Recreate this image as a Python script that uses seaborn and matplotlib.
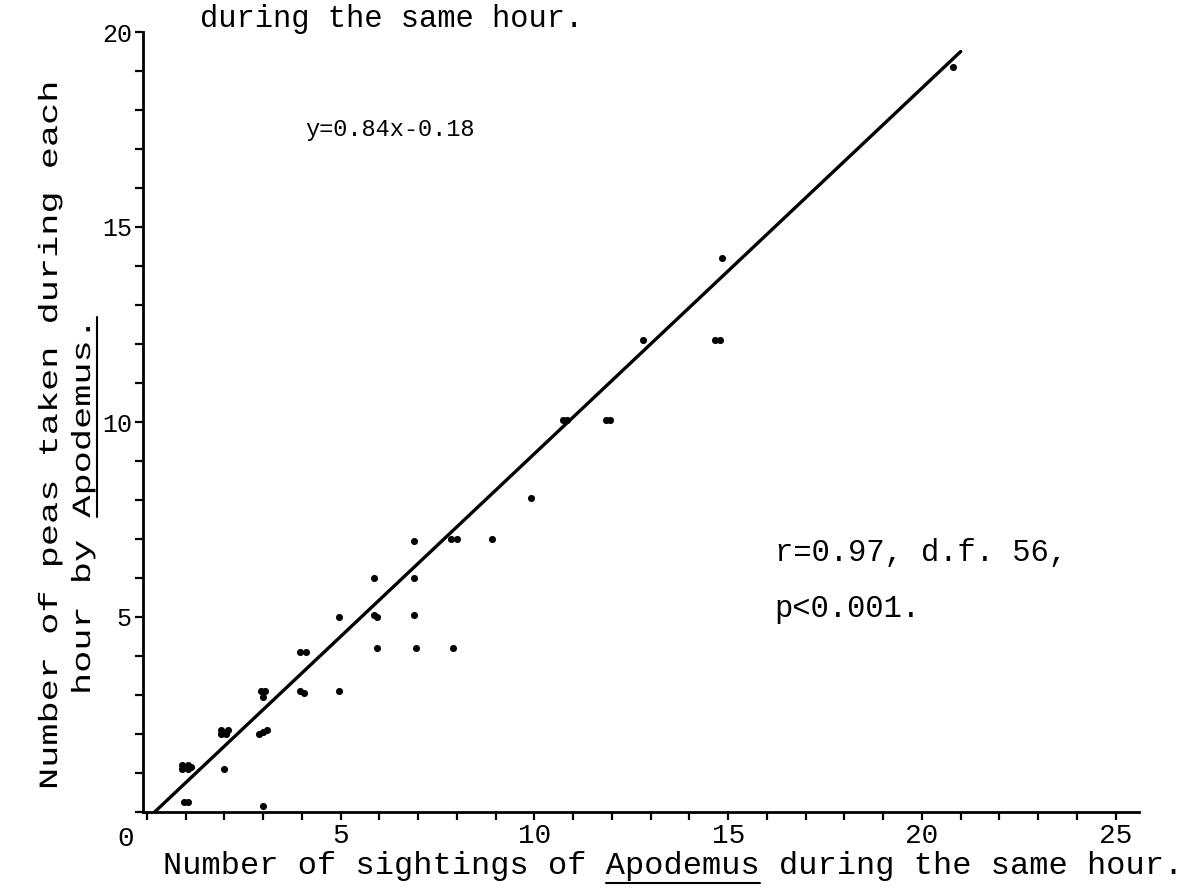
import matplotlib
matplotlib.use("Agg")
import matplotlib.pyplot as plt
import matplotlib.patheffects as pe
from matplotlib.transforms import Affine2D
import seaborn as sns
import pandas as pd
from matplotlib.lines import Line2D

# ---- data ----
sightings = [0.9, 0.9, 1.05, 1.05, 1.15, 0.97, 1.05,
             1.9, 1.9, 2.05, 2.1, 2.0,
             2.95, 3.05, 3.0, 2.9, 3.0, 3.1, 3.0,
             3.95, 4.1, 3.95, 4.05,
             4.95, 4.95,
             5.85, 5.85, 5.95, 5.95,
             6.9, 6.9, 6.9, 6.95,
             7.85, 8.0, 7.9,
             8.9, 9.9,
             10.75, 10.85, 11.85, 11.95,
             12.8, 14.65, 14.8, 14.85,
             20.8]
peas = [1.1, 1.2, 1.1, 1.2, 1.15, 0.25, 0.25,
        2.0, 2.1, 2.0, 2.1, 1.1,
        3.1, 3.1, 2.95, 2.0, 2.05, 2.1, 0.15,
        4.1, 4.1, 3.1, 3.05,
        5.0, 3.1,
        6.0, 5.05, 5.0, 4.2,
        6.95, 6.0, 5.05, 4.2,
        7.0, 7.0, 4.2,
        7.0, 8.05,
        10.05, 10.05, 10.05, 10.05,
        12.1, 12.1, 12.1, 14.2,
        19.1]
fit_x = [0.2, 21.0]
fit_y = [0.0, 19.5]

x_tick_values = [5, 10, 15, 20, 25]
x_tick_labels = ["5", "10", "15", "20", "25"]
y_tick_values = [5, 10, 15, 20]
y_tick_labels = ["5", "10", "15", "20"]
origin_label = "0"

equation_text = "y=0.84x-0.18"
stats_line1 = "r=0.97, d.f. 56,"
stats_line2 = "p<0.001."
x_label = "Number of sightings of Apodemus during the same hour."
y_label_1 = "Number of peas taken during each"
y_label_2 = "hour by Apodemus."
top_caption = "during the same hour."


class Stretch(pe.AbstractPathEffect):
    """Widen typed text along its own direction (typewriter pitch)."""
    def __init__(self, sx):
        super().__init__()
        self._sx = sx

    def draw_path(self, renderer, gc, tpath, affine, rgbFace=None):
        renderer.draw_path(gc, tpath, Affine2D().scale(self._sx, 1.0) + affine, rgbFace)


# ---- style ----
sns.set_style("ticks")
plt.rcParams["font.family"] = ["Liberation Mono", "DejaVu Sans Mono", "DejaVu Sans"]
plt.rcParams["text.color"] = "black"

W, H = 1192, 892
fig = plt.figure(figsize=(W / 100, H / 100), dpi=100)
fig.patch.set_facecolor("white")
ax = fig.add_axes([143 / W, 80 / H, (1139 - 143) / W, (812 - 32) / H])
ax.set_facecolor("white")

df = pd.DataFrame({"sightings": sightings, "peas": peas})
sns.scatterplot(data=df, x="sightings", y="peas", ax=ax, color="black",
                s=26, linewidth=0, clip_on=False)
fit_df = pd.DataFrame({"x": fit_x, "y": fit_y})
sns.lineplot(data=fit_df, x="x", y="y", ax=ax, color="black", linewidth=2.4)

ax.set_xlim(-0.1, 25.6)
ax.set_ylim(0, 20)
ax.set_xlabel("")
ax.set_ylabel("")

for side in ("top", "right"):
    ax.spines[side].set_visible(False)
for side in ("left", "bottom"):
    ax.spines[side].set_linewidth(2.0)
    ax.spines[side].set_color("black")

ax.set_xticks(x_tick_values)
ax.set_xticklabels(x_tick_labels)
ax.set_xticks(list(range(0, 26)), minor=True)
ax.set_yticks(y_tick_values)
ax.set_yticklabels(y_tick_labels)
ax.set_yticks(list(range(0, 21)), minor=True)
ax.tick_params(axis="both", which="both", direction="out", length=6, width=1.6,
               color="black", labelcolor="black", pad=2)
ax.tick_params(axis="x", labelsize=20)
ax.tick_params(axis="y", labelsize=18)

ax.text(-0.55, -0.35, origin_label, fontsize=20, ha="center", va="top", color="black")

ax.text(4.08, 17.5, equation_text, fontsize=17, ha="left", va="center", color="black")
ax.text(16.2, 6.65, stats_line1, fontsize=22, ha="left", va="center", color="black")
ax.text(16.2, 5.2, stats_line2, fontsize=22, ha="left", va="center", color="black")

xl = fig.text(163 / W, 1 - 866 / H, x_label, fontsize=23, ha="left", va="center",
              color="black")

SX = 1.4
yl1 = fig.text(50 / W, 1 - 790 / H, y_label_1, fontsize=19, rotation=90,
               rotation_mode="anchor", ha="left", va="center", color="black",
               path_effects=[Stretch(SX)])
yl2 = fig.text(83 / W, 1 - 695 / H, y_label_2, fontsize=19, rotation=90,
               rotation_mode="anchor", ha="left", va="center", color="black",
               path_effects=[Stretch(SX)])
fig.text(200 / W, 1 - 27 / H, top_caption, fontsize=22, ha="left", va="baseline",
         color="black")

# underline "Apodemus" in both axis titles
fig.canvas.draw()
r = fig.canvas.get_renderer()
bb = xl.get_window_extent(r)
cw = bb.width / len(x_label)
i0 = x_label.index("Apodemus")
fig.add_artist(Line2D([(bb.x0 + i0 * cw) / W, (bb.x0 + (i0 + 8) * cw) / W],
                      [(bb.y0 - 2) / H, (bb.y0 - 2) / H],
                      color="black", linewidth=1.5, transform=fig.transFigure))
bb2 = yl2.get_window_extent(r)
ch = bb2.height / len(y_label_2) * SX
j0 = y_label_2.index("Apodemus")
fig.add_artist(Line2D([(bb2.x1 + 2) / W, (bb2.x1 + 2) / W],
                      [(bb2.y0 + j0 * ch) / H, (bb2.y0 + (j0 + 9) * ch) / H],
                      color="black", linewidth=1.5, transform=fig.transFigure))

fig.savefig("out.png", dpi=100, facecolor="white")
